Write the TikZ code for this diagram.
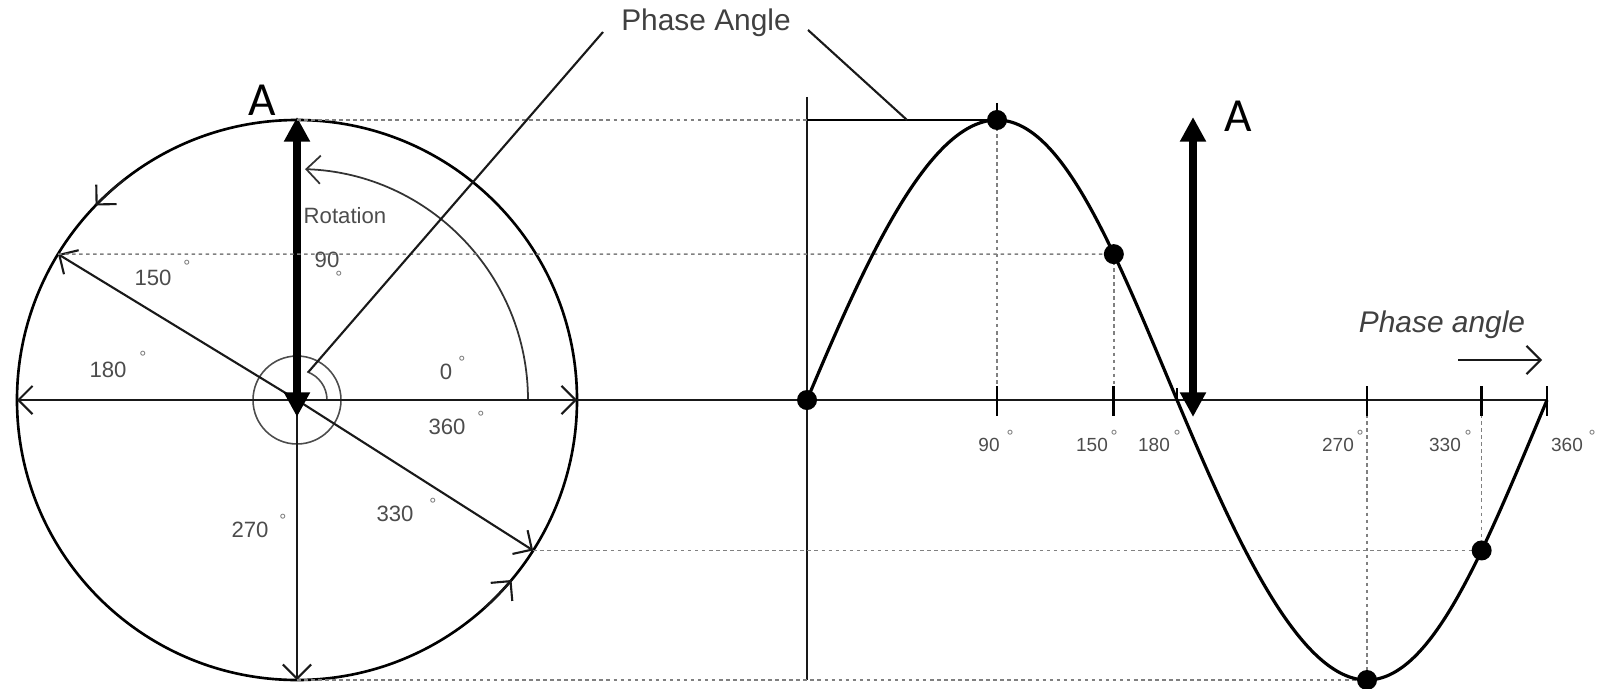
\documentclass[tikz,border=0pt]{standalone}
\usepackage{fontspec}
\setmainfont{Liberation Sans}
\newfontfamily\calibfont{Carlito}
\usetikzlibrary{arrows.meta,calc}
\begin{document}
\begin{tikzpicture}[x=0.01cm,y=-0.01cm,
  ln/.style={line width=0.6pt, black!90},
  dl/.style={line width=0.45pt, black!50, dash pattern=on 1pt off 1pt},
  bar/.style={-{Straight Barb[length=4pt,width=8pt]}},
  barb/.style={{Straight Barb[length=4pt,width=8pt]}-{Straight Barb[length=4pt,width=8pt]}},
  lbl/.style={inner sep=0pt, text=black!70, font=\fontsize{6.3}{7}\selectfont},
  albl/.style={inner sep=0pt, text=black!70, font=\fontsize{5.4}{6}\selectfont},
  dg/.style={inner sep=0pt, text=black!55, font=\fontsize{5}{5}\selectfont},
  big/.style={inner sep=0pt, text=black!75, font=\fontsize{8.5}{10}\selectfont},
  dot/.style={circle, fill=black, inner sep=0pt, minimum size=0.2cm},
  bigA/.style={line width=2.3pt, {Triangle[length=7pt,width=7pt]}-{Triangle[length=7pt,width=7pt]}},
  Alab/.style={inner sep=0pt, font=\calibfont\fontsize{13.5}{14}\selectfont},
  declare function={sx(\t)=807+\t/360*740+2.5*(1-cos(2*\t)); sy(\t)=400-280*sin(\t);},
]
\useasboundingbox (0,0) rectangle (1604,688);
% ---------- circle side ----------
\coordinate (O) at (297,400);
\coordinate (Ctop) at (297,120);
\coordinate (Cbot) at (297,680);
\coordinate (Cleft) at (17,400);
\coordinate (Cright) at (577,400);
\coordinate (C150) at ($(O)+(-148.6:280)$);
\coordinate (C330) at ($(O)+(-327.5:280)$);
\coordinate (Ain) at (297,417);
\coordinate (Aout) at (297,117);

\draw[line width=0.75pt] (O) circle[radius=280];
% direction marks on the circle
\draw[ln,bar] ($(O)+(-128:280)$) arc[start angle=-128,end angle=-136,radius=280];
\draw[ln,bar] ($(O)+(-312:280)$) arc[start angle=-312,end angle=-320,radius=280];
% small centre circle and angle arc
\draw[line width=0.45pt, black!70] (O) circle[radius=44];
\draw[line width=0.45pt, black!70] ($(O)+(0:30)$) arc[start angle=0,end angle=-70,radius=30];
% rotation arc
\draw[line width=0.5pt, black!80, bar] ($(O)+(0:231)$) arc[start angle=0,end angle=-88,radius=231];
% axes & vectors
\draw[ln,barb] (Cleft) -- (Cright);
\draw[ln,bar] (O) -- (Cbot);
\draw[ln,bar] (O) -- (C150);
\draw[ln,bar] (O) -- (C330);
\draw[bigA] (Ain) -- (Aout);
\node[Alab] (A1) at (262,100) {A};

% labels inside circle
\node[lbl] (rot) at (345,216) {Rotation};
\node[lbl] (l90) at (327,260) {90};
\node[dg] (d90c) at (339,277) {°};
\node[lbl] (l150) at (153,278) {150};
\node[dg] (d150c) at (187,266) {°};
\node[lbl] (l180) at (108,370) {180};
\node[dg] (d180c) at (143,357) {°};
\node[lbl] (l0) at (446,372) {0};
\node[dg] (d0c) at (462,362) {°};
\node[lbl] (l360c) at (447,427) {360};
\node[dg] (d360c) at (481,417) {°};
\node[lbl] (l330c) at (395,514) {330};
\node[dg] (d330c) at (433,504) {°};
\node[lbl] (l270c) at (250,530) {270};
\node[dg] (d270c) at (283,520) {°};

% ---------- sine side ----------
\coordinate (Vtop) at (807,97);
\coordinate (Vbot) at (807,680);
\coordinate (Xend) at (1547,400);
\coordinate (s90p) at ({sx(90)},{sy(90)});
\coordinate (s150p) at ({sx(148.6)},{sy(148.6)});
\coordinate (s270p) at ({sx(270)},{sy(270)});
\coordinate (s330p) at ({sx(327.5)},{sy(327.5)});
\coordinate (T90) at (s90p |- Xend);
\coordinate (T150) at (s150p |- Xend);
\coordinate (T180) at ({sx(180)},400);
\coordinate (T270) at (s270p |- Xend);
\coordinate (T330) at (s330p |- Xend);
\coordinate (Pk) at (807,120);

\draw[ln] (Cright) -- (Xend);
\draw[ln] (Vtop) -- (Vbot);

% dotted projection lines
\draw[dl] (Ctop) -- (Pk);
\draw[dl] (C150) -- (s150p);
\draw[dl] (C330) -- (s330p);
\draw[dl] (Cbot) -- (s270p);
\draw[dl] (s90p) -- (T90);
\draw[dl] (s150p) -- (T150);
\draw[dl] (T270) -- (s270p);
\draw[dl] (T330) -- (s330p);

% ticks
\foreach \t in {T90,T150,T270,T330,Xend}{\draw[line width=0.8pt] ($(\t)+(0,-14)$) -- ($(\t)+(0,16)$);}
\draw[line width=0.6pt] ($(T180)+(0,-12)$) -- (T180);
\draw[line width=0.8pt] ($(s90p)+(0,-17)$) -- ($(s90p)+(0,5)$);

% sine curve
\draw[line width=0.9pt] plot[domain=0:360,samples=150,smooth] ({sx(\x)},{sy(\x)});
\draw[line width=0.7pt] (Pk) -- (s90p);

% dots
\node[dot] (s0) at (807,400) {};
\node[dot] (s90) at (s90p) {};
\node[dot] (s150) at (s150p) {};
\node[dot] (s270) at (s270p) {};
\node[dot] (s330) at (s330p) {};

% big A arrow right
\coordinate (Bin) at (1193,417);
\coordinate (Bout) at (1193,117);
\draw[bigA] (Bin) -- (Bout);
\node[Alab] (A2) at (1238,116) {A};

% axis labels
\node[albl] (a90) at (989,445) {90};
\node[dg] (g90) at (1010,436) {°};
\node[albl] (a150) at (1092,445) {150};
\node[dg] (g150) at (1114,436) {°};
\node[albl] (a180) at (1154,445) {180};
\node[dg] (g180) at (1177,436) {°};
\node[albl] (a270) at (1338,445) {270};
\node[dg] (g270) at (1360,436) {°};
\node[albl] (a330) at (1445,445) {330};
\node[dg] (g330) at (1468,436) {°};
\node[albl] (a360) at (1567,445) {360};
\node[dg] (g360) at (1592,436) {°};

% phase angle labels
\node[big] (PA) at (706,23) {Phase Angle};
\coordinate (PAl) at (603,32);
\coordinate (PAr) at (808,30);
\coordinate (PAh) at (907,120);
\draw[ln] (PAl) -- ($(O)+(-68:30)$);
\draw[ln] (PAr) -- (PAh);

\node[big, font=\itshape\fontsize{8.5}{10}\selectfont] (pa2) at (1442,325) {Phase angle};
\coordinate (pa2s) at (1458,360);
\coordinate (pa2e) at (1542,360);
\draw[ln,bar] (pa2s) -- (pa2e);
\end{tikzpicture}
\end{document}
